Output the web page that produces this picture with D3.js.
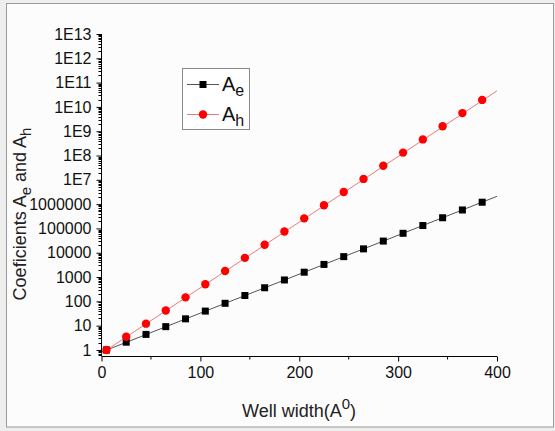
<!DOCTYPE html>
<html>
<head>
<meta charset="utf-8">
<script src="https://cdn.jsdelivr.net/npm/d3@7"></script>
<style>
  html, body { margin: 0; padding: 0; background: #eeeeee; }
  svg { display: block; font-family: Arial, "Liberation Sans", sans-serif; }
</style>
</head>
<body>
<svg id="chart" width="555" height="431"></svg>
<script>
// ---- data ----
const wellWidth = [5, 25, 45, 65, 85, 105, 125, 145, 165, 185, 205, 225, 245, 265, 285, 305, 325, 345, 365, 385];
const aeValues = [1, 2.09, 4.37, 9.12, 19.1, 39.8, 83.2, 174, 363, 759, 1585, 3311, 6918, 14450, 30200, 63100, 131800, 275400, 575400, 1200000];
const ahValues = [1, 3.48, 12.1, 42.1, 146, 509, 1770, 6160, 21400, 74600, 260000, 900000, 3140000, 10900000, 38000000, 132000000, 460000000, 1600000000, 5570000000, 19400000000];
const fitX = [0, 400];
const aeFit = [0.82, 2100000];
const ahFit = [0.72, 46000000000];
const yTickValues = [1, 10, 100, 1000, 10000, 100000, 1000000, 1e7, 1e8, 1e9, 1e10, 1e11, 1e12, 1e13];
const yTickLabels = ["1", "10", "100", "1000", "10000", "100000", "1000000", "1E7", "1E8", "1E9", "1E10", "1E11", "1E12", "1E13"];
const xTickValues = [0, 100, 200, 300, 400];
const xMinorTicks = [50, 150, 250, 350];

const svg = d3.select("#chart");

// frame
svg.append("rect").attr("x", 6.5).attr("y", 3.5).attr("width", 547).attr("height", 423.5)
  .attr("fill", "#fcfcfc").attr("stroke", "#9a9a9a").attr("stroke-width", 1);

const x = d3.scaleLinear().domain([0, 400]).range([101.5, 497]);
const y = d3.scaleLog().domain([0.565, 1e13]).range([356, 34]);

// y minor ticks
const yMinor = [];
for (let e = -1; e < 13; e++) {
  for (let m = 2; m <= 9; m++) {
    const v = m * Math.pow(10, e);
    if (v >= 0.565 && v <= 1e13) yMinor.push(v);
  }
}
const gy = svg.append("g").attr("transform", "translate(101.5,0)");
gy.selectAll(".ymin").data(yMinor).enter().append("line")
  .attr("x1", -3).attr("x2", 0)
  .attr("y1", d => Math.round(y(d)) + 0.5).attr("y2", d => Math.round(y(d)) + 0.5)
  .attr("stroke", "#000").attr("stroke-width", 1);
const yAxis = d3.axisLeft(y).tickValues(yTickValues)
  .tickFormat((d, i) => yTickLabels[i]).tickSize(5).tickPadding(5);
gy.call(yAxis);
gy.select(".domain").attr("d", `M0,${y(0.565)}V${y(1e13)}`).attr("stroke", "#000");
gy.selectAll(".tick text").attr("font-size", "16px").attr("fill", "#111")
  .attr("font-family", "Arial, 'Liberation Sans', sans-serif");

// x axis
const gx = svg.append("g").attr("transform", "translate(0,356.5)");
gx.selectAll(".xmin").data(xMinorTicks).enter().append("line")
  .attr("x1", d => x(d)).attr("x2", d => x(d)).attr("y1", 0).attr("y2", 3)
  .attr("stroke", "#000");
const xAxis = d3.axisBottom(x).tickValues(xTickValues).tickFormat(d3.format("d"))
  .tickSize(5).tickPadding(5);
gx.call(xAxis);
gx.select(".domain").attr("d", `M${x(0)},0H${x(400)}`).attr("stroke", "#000");
gx.selectAll(".tick text").attr("font-size", "16px").attr("fill", "#111")
  .attr("font-family", "Arial, 'Liberation Sans', sans-serif");

// fit lines
const line = d3.line().x(d => x(d[0])).y(d => y(d[1]));
svg.append("path").datum(fitX.map((v, i) => [v, aeFit[i]]))
  .attr("d", line).attr("fill", "none").attr("stroke", "#555").attr("stroke-width", 1);
svg.append("path").datum(fitX.map((v, i) => [v, ahFit[i]]))
  .attr("d", line).attr("fill", "none").attr("stroke", "#f07878").attr("stroke-width", 1);

// markers
svg.selectAll(".ae").data(wellWidth).enter().append("rect")
  .attr("x", (d) => x(d) - 3.5).attr("y", (d, i) => y(aeValues[i]) - 3.5)
  .attr("width", 7).attr("height", 7).attr("fill", "#000");
svg.selectAll(".ah").data(wellWidth).enter().append("circle")
  .attr("cx", d => x(d)).attr("cy", (d, i) => y(ahValues[i]))
  .attr("r", 4.2).attr("fill", "#f00");

// legend
const lg = svg.append("g");
lg.append("rect").attr("x", 182.5).attr("y", 68.5).attr("width", 67).attr("height", 61)
  .attr("fill", "#fff").attr("stroke", "#888").attr("stroke-width", 1);
lg.append("line").attr("x1", 187).attr("x2", 219).attr("y1", 84.5).attr("y2", 84.5).attr("stroke", "#555");
lg.append("rect").attr("x", 199.5).attr("y", 81).attr("width", 7).attr("height", 7).attr("fill", "#000");
lg.append("line").attr("x1", 187).attr("x2", 219).attr("y1", 114.5).attr("y2", 114.5).attr("stroke", "#f07878");
lg.append("circle").attr("cx", 203).attr("cy", 114.5).attr("r", 4.2).attr("fill", "#f00");
const t1 = lg.append("text").attr("x", 222).attr("y", 91).attr("font-size", "20px").attr("fill", "#111");
t1.append("tspan").text("A");
t1.append("tspan").attr("dy", 5).attr("font-size", "16px").text("e");
const t2 = lg.append("text").attr("x", 222).attr("y", 121).attr("font-size", "20px").attr("fill", "#111");
t2.append("tspan").text("A");
t2.append("tspan").attr("dy", 5).attr("font-size", "16px").text("h");

// axis titles
const xt = svg.append("text").attr("x", 299).attr("y", 417).attr("text-anchor", "middle")
  .attr("font-size", "18px").attr("fill", "#222");
xt.append("tspan").text("Well width(A");
xt.append("tspan").attr("dy", -8).attr("font-size", "15px").text("0");
xt.append("tspan").attr("dy", 8).text(")");

const yt = svg.append("text").attr("transform", "translate(26,214) rotate(-90)")
  .attr("text-anchor", "middle").attr("font-size", "18px").attr("fill", "#222");
yt.append("tspan").text("Coeficients A");
yt.append("tspan").attr("dy", 5).attr("font-size", "15px").text("e");
yt.append("tspan").attr("dy", -5).text(" and A");
yt.append("tspan").attr("dy", 5).attr("font-size", "15px").text("h");
</script>
</body>
</html>
